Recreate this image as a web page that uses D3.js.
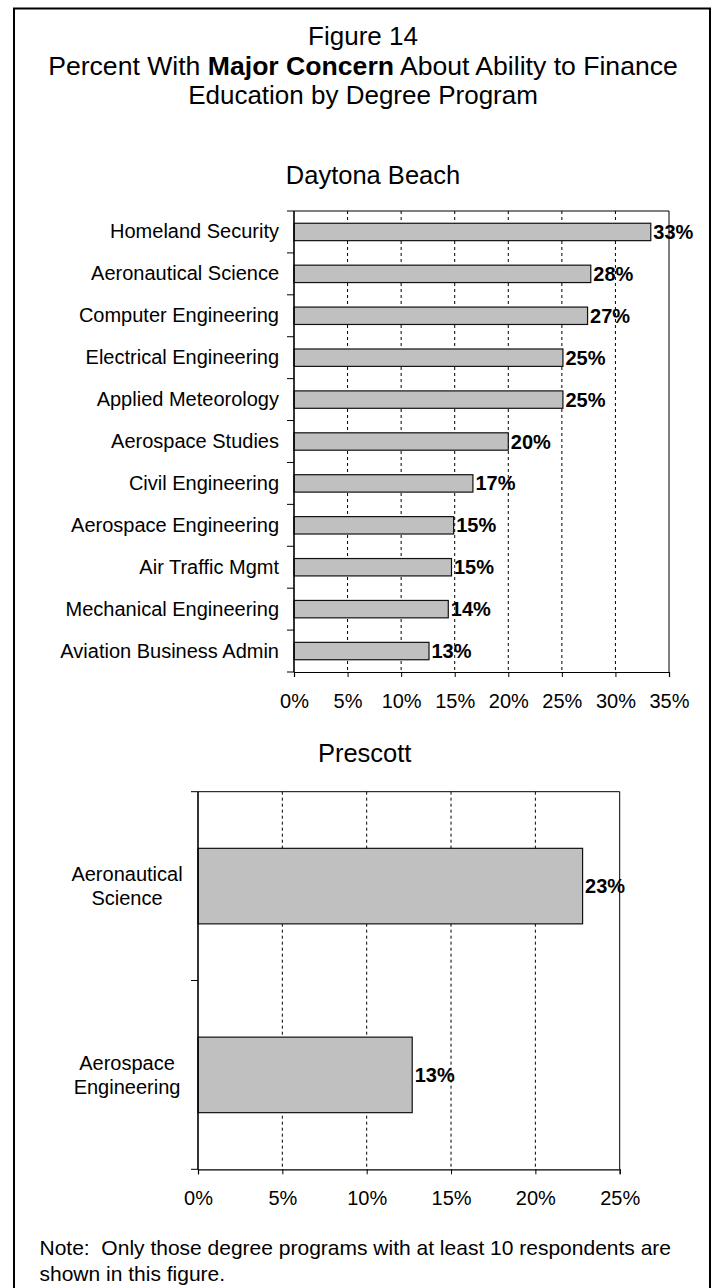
<!DOCTYPE html>
<html>
<head>
<meta charset="utf-8">
<script src="https://cdn.jsdelivr.net/npm/d3@7"></script>
<style>
  html, body { margin: 0; padding: 0; background: #fff; }
  svg { display: block; font-family: "Liberation Sans", Arial, sans-serif; }
</style>
</head>
<body>
<div id="chart"></div>
<script>
// Figure 14 data
const daytonaPrograms = [
  "Homeland Security",
  "Aeronautical Science",
  "Computer Engineering",
  "Electrical Engineering",
  "Applied Meteorology",
  "Aerospace Studies",
  "Civil Engineering",
  "Aerospace Engineering",
  "Air Traffic Mgmt",
  "Mechanical Engineering",
  "Aviation Business Admin"
];
const daytonaValues = [0.333, 0.277, 0.274, 0.251, 0.251, 0.200, 0.167, 0.149, 0.147, 0.144, 0.126];
const daytonaTicks = [0, 0.05, 0.10, 0.15, 0.20, 0.25, 0.30, 0.35];

const prescottPrograms = ["Aeronautical Science", "Aerospace Engineering"];
const prescottValues = [0.228, 0.127];
const prescottTicks = [0, 0.05, 0.10, 0.15, 0.20, 0.25];

const width = 717, height = 1288;
const pct = d3.format(".0%");

const svg = d3.select("#chart")
  .append("svg")
  .attr("width", width)
  .attr("height", height)
  .attr("viewBox", [0, 0, width, height]);

// outer frame (bottom edge runs off the page)
svg.append("rect")
  .attr("x", 14).attr("y", 8.5)
  .attr("width", 696).attr("height", 1300)
  .attr("fill", "none")
  .attr("stroke", "#000")
  .attr("stroke-width", 2);

// title block
const title = svg.append("g")
  .attr("font-size", 26)
  .attr("text-anchor", "middle")
  .attr("fill", "#000");
title.append("text").attr("x", 363).attr("y", 44.5).text("Figure 14");
const t2 = title.append("text").attr("x", 363).attr("y", 75).attr("font-size", 26.6);
t2.append("tspan").text("Percent With ");
t2.append("tspan").attr("font-weight", "bold").text("Major Concern");
t2.append("tspan").text(" About Ability to Finance");
title.append("text").attr("x", 363).attr("y", 104).text("Education by Degree Program");

function barChart(g, programs, values, ticks, {
  x0, x1, y0, y1,          // plot area
  padding = 0.6,           // band padding
  wrap = false,            // wrap labels onto two lines
  labelX,                  // where the category labels sit
  subtitle, subtitleX, subtitleY
}) {
  const x = d3.scaleLinear().domain([0, d3.max(ticks)]).range([x0, x1]);
  const y = d3.scaleBand().domain(programs).range([y0, y1])
    .paddingInner(padding).paddingOuter(padding / 2);
  const step = y.step();

  g.append("text")
    .attr("x", subtitleX).attr("y", subtitleY)
    .attr("text-anchor", "middle")
    .attr("font-size", 25.5)
    .text(subtitle);

  // dotted gridlines
  g.append("g")
    .selectAll("line")
    .data(ticks.slice(1, -1))
    .join("line")
    .attr("x1", d => x(d)).attr("x2", d => x(d))
    .attr("y1", y0).attr("y2", y1)
    .attr("stroke", "#000")
    .attr("stroke-width", 1)
    .attr("stroke-dasharray", "3,3");

  // plot area frame (top + right)
  g.append("path")
    .attr("d", `M${x0},${y0}H${x1}V${y1}`)
    .attr("fill", "none")
    .attr("stroke", "#000")
    .attr("stroke-width", 1);

  // bars
  g.append("g")
    .selectAll("rect")
    .data(programs)
    .join("rect")
    .attr("x", x(0))
    .attr("y", d => y(d))
    .attr("width", (d, i) => x(values[i]) - x(0))
    .attr("height", y.bandwidth())
    .attr("fill", "#c0c0c0")
    .attr("stroke", "#111")
    .attr("stroke-width", 1.2);

  // value labels
  g.append("g")
    .attr("font-size", 20)
    .attr("font-weight", "bold")
    .selectAll("text")
    .data(programs)
    .join("text")
    .attr("x", (d, i) => x(values[i]) + 2.5)
    .attr("y", d => y(d) + y.bandwidth() / 2 + 7)
    .text((d, i) => pct(values[i]));

  // x axis
  const xAxis = d3.axisBottom(x).tickValues(ticks).tickFormat(pct).tickSize(5).tickPadding(13);
  g.append("g")
    .attr("transform", `translate(0,${y1})`)
    .call(xAxis)
    .call(a => a.select(".domain").attr("stroke", "#000").attr("stroke-width", 1.2))
    .call(a => a.selectAll(".tick line").attr("stroke", "#000"))
    .call(a => a.selectAll(".tick text")
      .attr("font-size", 20)
      .attr("font-family", null)
      .attr("fill", "#000")
      .attr("dy", null)
      .attr("y", 36));

  // y axis: ticks sit between the categories
  const bounds = d3.range(programs.length + 1).map(i => y0 + i * step);
  g.append("line")
    .attr("x1", x0).attr("x2", x0)
    .attr("y1", y0).attr("y2", y1)
    .attr("stroke", "#000")
    .attr("stroke-width", 1.6);
  g.append("g")
    .selectAll("line")
    .data(bounds)
    .join("line")
    .attr("x1", x0 - 7).attr("x2", x0)
    .attr("y1", d => d).attr("y2", d => d)
    .attr("stroke", "#000");

  const labels = g.append("g")
    .attr("font-size", 20)
    .attr("text-anchor", wrap ? "middle" : "end")
    .selectAll("text")
    .data(programs)
    .join("text")
    .attr("x", labelX)
    .attr("y", d => y(d) + y.bandwidth() / 2 + 6.5);

  if (wrap) {
    labels.each(function (d) {
      const words = d.split(" ");
      const cy = y(d) + y.bandwidth() / 2;
      d3.select(this).attr("y", null)
        .selectAll("tspan")
        .data(words)
        .join("tspan")
        .attr("x", labelX)
        .attr("y", (w, i) => cy - 4.8 + i * 23.5)
        .text(w => w);
    });
  } else {
    labels.text(d => d);
  }
}

barChart(svg.append("g"), daytonaPrograms, daytonaValues, daytonaTicks, {
  x0: 294, x1: 669, y0: 211, y1: 672,
  padding: 0.585,
  labelX: 279,
  subtitle: "Daytona Beach", subtitleX: 373, subtitleY: 184
});

barChart(svg.append("g"), prescottPrograms, prescottValues, prescottTicks, {
  x0: 198, x1: 619.7, y0: 791.7, y1: 1169.3,
  padding: 0.6,
  wrap: true,
  labelX: 127,
  subtitle: "Prescott", subtitleX: 364.7, subtitleY: 762
});

// footnote (non-breaking space keeps the double gap after "Note:")
const note = svg.append("g").attr("font-size", 21);
note.append("text").attr("x", 39.5).attr("y", 1254.7)
  .text("Note:\u00a0 Only those degree programs with at least 10 respondents are");
note.append("text").attr("x", 39.5).attr("y", 1280.7)
  .text("shown in this figure.");
</script>
</body>
</html>
